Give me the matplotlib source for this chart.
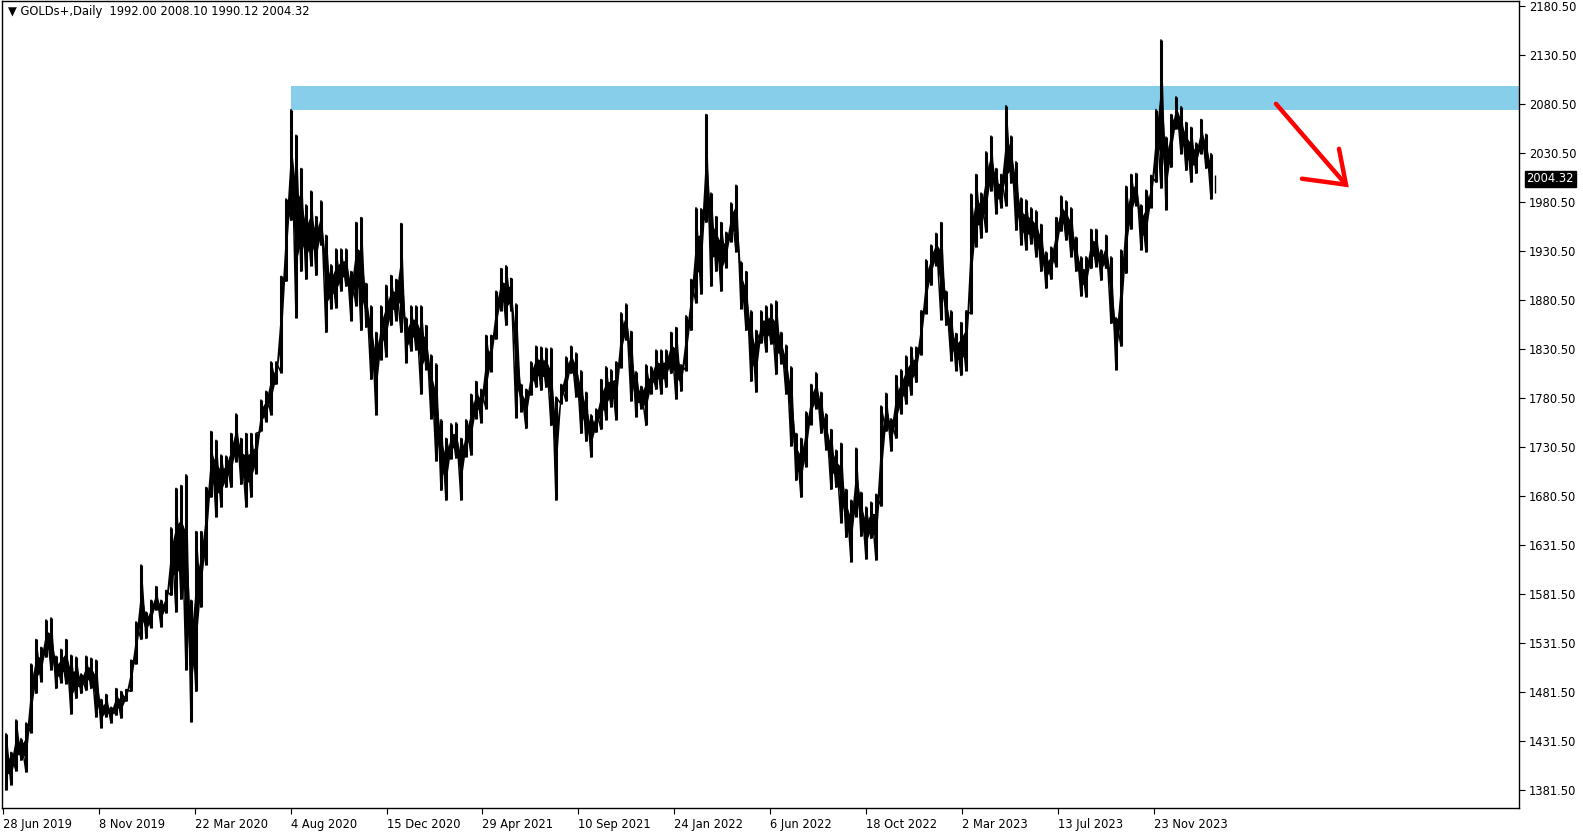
import numpy as np
import matplotlib
matplotlib.use("Agg")
import matplotlib.pyplot as plt

# weekly high / low of GOLDs+ (Jul 2019 -> Feb 2024)
HIGHS = [
    # 2019 (from week of 1 Jul)
    1439, 1420, 1453, 1434, 1450, 1510, 1535, 1527, 1555, 1557, 1518, 1525, 1535, 1519,
    1517, 1500, 1518, 1516, 1514, 1474, 1479, 1466, 1485, 1482, 1484, 1514, 1553,
    # 2020
    1611, 1563, 1575, 1589, 1575, 1585, 1649, 1689, 1692, 1703, 1575, 1645, 1645,
    1690, 1747, 1738, 1723, 1722, 1745, 1765, 1740, 1745, 1745, 1745, 1779, 1788,
    1818, 1818, 1905, 1984, 2075, 2049, 2015, 1978, 1992, 1966, 1982, 1947, 1917,
    1933, 1933, 1933, 1910, 1960, 1965, 1898, 1875, 1848, 1875, 1896, 1906, 1902,
    # 2021
    1959, 1863, 1875, 1875, 1875, 1855, 1825, 1816, 1759, 1740, 1755, 1756, 1740,
    1759, 1785, 1798, 1790, 1845, 1845, 1890, 1913, 1916, 1903, 1877, 1795, 1790,
    1818, 1834, 1833, 1832, 1832, 1782, 1795, 1823, 1834, 1827, 1809, 1787, 1764,
    1770, 1800, 1813, 1810, 1818, 1868, 1877, 1849, 1808, 1793, 1815, 1813, 1830,
    # 2022
    1830, 1830, 1848, 1853, 1815, 1865, 1902, 1975, 1974, 2070, 1990, 1966, 1960,
    1950, 1980, 1998, 1920, 1910, 1870, 1850, 1870, 1875, 1877, 1880, 1848, 1835,
    1813, 1745, 1740, 1767, 1795, 1807, 1787, 1765, 1749, 1728, 1735, 1688, 1677,
    1730, 1685, 1670, 1675, 1683, 1773, 1786, 1760, 1804, 1810, 1824, 1833, 1833,
    # 2023
    1870, 1922, 1937, 1949, 1960, 1890, 1870, 1847, 1858, 1870, 1989, 2009, 1990,
    2032, 2048, 2015, 2009, 2079, 2048, 2022, 1985, 1983, 1975, 1972, 1958, 1930,
    1935, 1965, 1987, 1982, 1975, 1945, 1925, 1925, 1953, 1953, 1932, 1947, 1925,
    1863, 1932, 1997, 2009, 2010, 1978, 1993, 2008, 2075, 2146, 2047, 2070, 2088,
    # 2024
    2078, 2062, 2057, 2041, 2065, 2050, 2030,
]
LOWS = [
    1382, 1387, 1401, 1412, 1400, 1440, 1480, 1492, 1517, 1504, 1485, 1491, 1490, 1459,
    1475, 1480, 1483, 1485, 1456, 1445, 1456, 1450, 1458, 1455, 1472, 1482, 1510,
    1535, 1536, 1547, 1565, 1548, 1562, 1580, 1563, 1576, 1504, 1451, 1482, 1568,
    1611, 1680, 1660, 1670, 1690, 1690, 1716, 1693, 1670, 1680, 1704, 1747, 1757,
    1764, 1795, 1807, 1900, 1962, 1863, 1910, 1902, 1916, 1906, 1937, 1848, 1872,
    1873, 1890, 1895, 1860, 1875, 1850, 1853, 1800, 1764, 1820, 1823, 1855, 1860,
    1848, 1817, 1829, 1830, 1785, 1810, 1760, 1717, 1687, 1677, 1719, 1720, 1677,
    1721, 1723, 1760, 1756, 1770, 1808, 1841, 1870, 1855, 1870, 1761, 1767, 1750,
    1784, 1792, 1789, 1792, 1753, 1677, 1775, 1778, 1806, 1782, 1745, 1737, 1721,
    1746, 1749, 1759, 1772, 1759, 1812, 1840, 1778, 1762, 1770, 1753, 1785, 1790,
    1785, 1792, 1806, 1780, 1788, 1809, 1850, 1878, 1887, 1960, 1895, 1910, 1890,
    1914, 1940, 1930, 1872, 1850, 1798, 1787, 1837, 1828, 1836, 1805, 1816, 1785,
    1732, 1697, 1680, 1711, 1754, 1770, 1745, 1728, 1688, 1690, 1654, 1639, 1614,
    1660, 1640, 1617, 1638, 1616, 1671, 1747, 1727, 1740, 1765, 1775, 1784, 1797,
    1825, 1867, 1896, 1916, 1861, 1855, 1819, 1809, 1804, 1809, 1867, 1935, 1944,
    1950, 1992, 1969, 1975, 1977, 2000, 1952, 1937, 1932, 1938, 1925, 1910, 1893,
    1902, 1915, 1951, 1942, 1925, 1910, 1885, 1884, 1913, 1915, 1901, 1913, 1857,
    1810, 1834, 1908, 1953, 1977, 1932, 1930, 1975, 2001, 1995, 1973, 2016, 2055,
    2030, 2013, 2001, 2010, 2030, 2015, 1984,
]

LAST_BAR = (1992.00, 2008.10, 1990.12, 2004.32)  # open, high, low, close
ZONE = (2074.5, 2099.0)
ZONE_START_BAR = 288

Y_TICKS = np.linspace(1381.5, 2180.5, 17)
Y_LABELS = ["1381.50", "1431.50", "1481.50", "1531.50", "1581.50", "1631.50",
            "1680.50", "1730.50", "1780.50", "1830.50", "1880.50", "1930.50",
            "1980.50", "2030.50", "2080.50", "2130.50", "2180.50"]
X_TICKS = np.arange(13) * 95.9
X_LABELS = ["28 Jun 2019", "8 Nov 2019", "22 Mar 2020", "4 Aug 2020", "15 Dec 2020",
            "29 Apr 2021", "10 Sep 2021", "24 Jan 2022", "6 Jun 2022", "18 Oct 2022",
            "2 Mar 2023", "13 Jul 2023", "23 Nov 2023"]

W, H = 1583, 832
fig = plt.figure(figsize=(W / 100, H / 100), dpi=100)
ax = fig.add_axes([2 / W, 24 / H, 1517 / W, 807 / H])

highs = np.array(HIGHS, float)
lows = np.array(LOWS, float)
wx = 3 + 5 * np.arange(len(highs))

# each week drawn as a low->high stroke, strokes chained together
px = np.repeat(wx, 2)
py = np.column_stack([lows, highs]).ravel()
ax.plot(px, py, color="black", lw=1.1)
ax.vlines(wx, lows, highs, color="black", lw=2.2)
ax.fill_between(wx, lows + 0.3 * (highs - lows), highs - 0.3 * (highs - lows),
                color="black", lw=0)
last_x = wx[-1] + 4
ax.vlines(last_x, LAST_BAR[2], LAST_BAR[1], color="black", lw=1)

# resistance zone
ax.add_patch(plt.Rectangle((ZONE_START_BAR, ZONE[0]), 1516 - ZONE_START_BAR,
                           ZONE[1] - ZONE[0], color="#87CEEB", lw=0, zorder=0))

# hand drawn red arrow
ax.plot([1273, 1343], [2080.8, 1998.4], color="red", lw=3.2, solid_capstyle="round")
ax.plot([1299, 1343, 1336], [2004.5, 1998.4, 2035], color="red", lw=3.2,
        solid_capstyle="round", solid_joinstyle="miter")

ax.set_xlim(-1, 1516)
ax.set_ylim(1363.2, 2185.6)

ax.yaxis.tick_right()
ax.set_yticks(Y_TICKS)
ax.set_yticklabels(Y_LABELS)
ax.set_xticks(X_TICKS)
ax.set_xticklabels(X_LABELS, ha="left")
ax.tick_params(axis="both", direction="out", length=4, width=0.8, labelsize=8.3,
               colors="black", pad=3)
ax.tick_params(axis="y", pad=3)
for s in ax.spines.values():
    s.set_linewidth(1)
    s.set_color("black")

# current price tag
ax.text(1.005, (LAST_BAR[3] - 1363.2) / (2185.6 - 1363.2), f"{LAST_BAR[3]:.2f}",
        transform=ax.transAxes, ha="left", va="center", fontsize=8.3, color="white",
        bbox=dict(boxstyle="square,pad=0.15", fc="black", ec="black"), clip_on=False)

fig.text(8 / W, 1 - 12 / H, "\u25BC GOLDs+,Daily  1992.00 2008.10 1990.12 2004.32",
         ha="left", va="center", fontsize=8.3, color="black")

fig.savefig("out.png", dpi=100, facecolor="white")
